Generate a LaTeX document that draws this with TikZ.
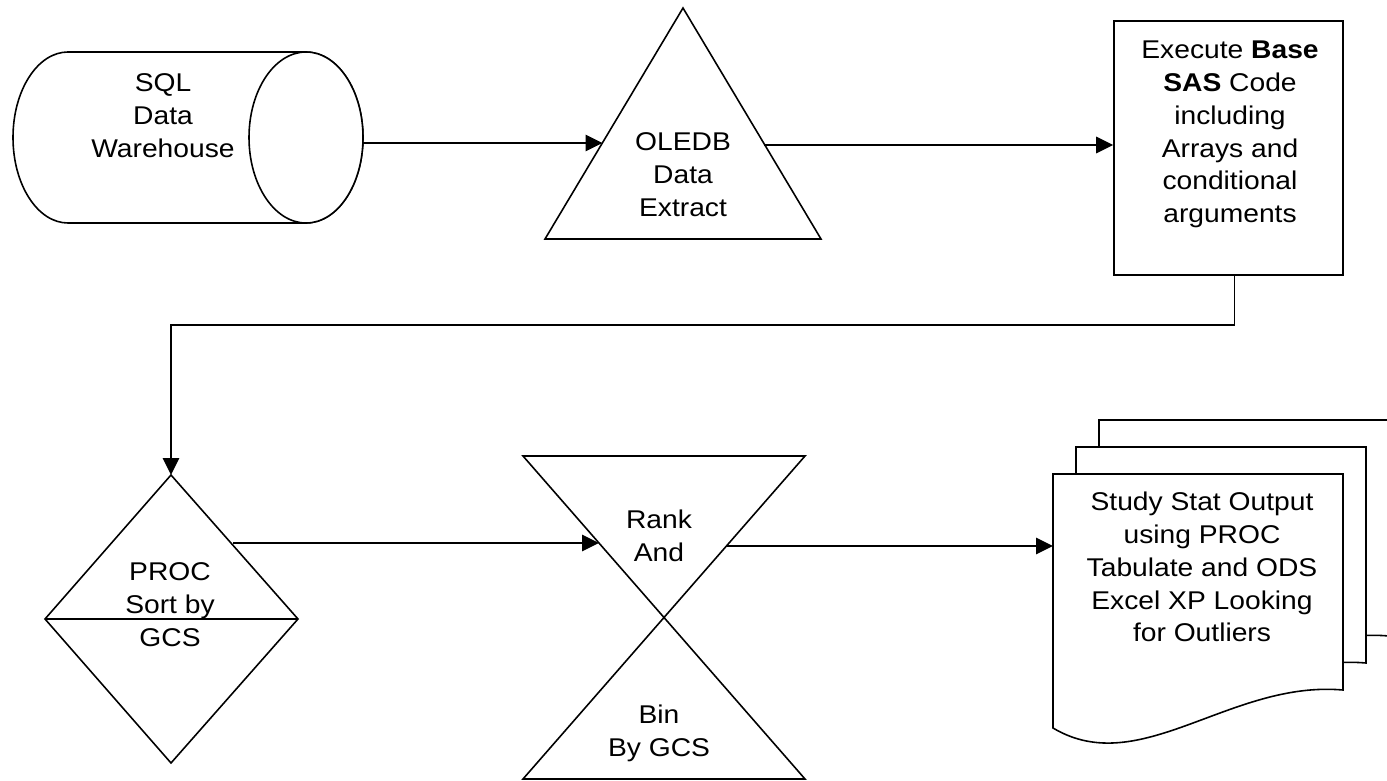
\documentclass[tikz,border=0pt]{standalone}
\usepackage{fontspec}
\setmainfont{Liberation Sans}[FakeStretch=1.1]
\usetikzlibrary{arrows.meta}

\begin{document}
\begin{tikzpicture}[
  font=\fontsize{14.6pt}{18.7pt}\selectfont,
  outline/.style={draw=black, line width=0.9pt, fill=white},
  wire/.style={draw=black, line width=0.9pt},
  txt/.style={align=center, inner sep=0pt},
  arr/.style={-{Triangle[length=3.4mm, width=3.3mm]}, line width=0.9pt}
]
  \clip (0,0) rectangle (27.74,-15.62);

  % data warehouse (cylinder lying on its side)
  \draw[outline] (1.36,-1.04) -- (6.12,-1.04)
    arc[start angle=90, end angle=-90, x radius=1.14, y radius=1.71]
    -- (1.36,-4.46)
    arc[start angle=270, end angle=90, x radius=1.10, y radius=1.71] -- cycle;
  \draw[outline] (6.12,-2.75) ellipse [x radius=1.14, y radius=1.71];
  \node[txt] (dw) at (3.26,-2.32) {SQL\\Data\\Warehouse};
  \coordinate (dw-out) at (7.26,-2.86);

  % extract (triangle)
  \draw[outline] (13.66,-0.16) -- (16.42,-4.78) -- (10.90,-4.78) -- cycle;
  \node[txt] (ext) at (13.66,-3.50) {OLEDB\\Data\\Extract};
  \coordinate (ext-in) at (12.05,-2.86);
  \coordinate (ext-out) at (15.28,-2.90);

  % base SAS step
  \node[outline, minimum width=4.58cm, minimum height=5.08cm] (exec) at (24.57,-2.96) {};
  \node[txt] (exec-txt) at (24.60,-2.69)
    {Execute \textbf{Base}\\\textbf{SAS} Code\\including\\Arrays and\\conditional\\arguments};

  % sort (diamond with a bar)
  \draw[outline] (3.42,-9.50) -- (5.96,-12.38) -- (3.42,-15.26) -- (0.90,-12.38) -- cycle;
  \draw[wire] (0.90,-12.38) -- (5.96,-12.38);
  \coordinate (sort-top) at (3.42,-9.50);
  \coordinate (sort-out) at (4.66,-10.86);
  \node[txt] (sort) at (3.40,-12.10) {PROC\\Sort by\\GCS};

  % rank / bin (hourglass)
  \draw[outline] (10.46,-9.12) -- (16.10,-9.12) -- (10.46,-15.58) -- (16.10,-15.58) -- cycle;
  \node[txt] (rank) at (13.18,-10.71) {Rank\\And};
  \node[txt] (bin) at (13.18,-14.66) {Bin\\By GCS};
  \coordinate (rank-in) at (11.98,-10.86);
  \coordinate (rank-out) at (14.53,-10.92);

  % stacked output pages, back to front
  \draw[outline, shift={(0.92,1.08)}] (21.06,-9.48) -- (26.86,-9.48) -- (26.86,-13.80)
    .. controls (24.60,-13.60) and (22.80,-15.60) .. (21.06,-14.56) -- cycle;
  \draw[outline, shift={(0.46,0.54)}] (21.06,-9.48) -- (26.86,-9.48) -- (26.86,-13.80)
    .. controls (24.60,-13.60) and (22.80,-15.60) .. (21.06,-14.56) -- cycle;
  \draw[outline] (21.06,-9.48) -- (26.86,-9.48) -- (26.86,-13.80)
    .. controls (24.60,-13.60) and (22.80,-15.60) .. (21.06,-14.56) -- cycle;
  \node[txt] (study) at (24.04,-11.34)
    {Study Stat Output\\using PROC\\Tabulate and ODS\\Excel XP Looking\\for Outliers};
  \coordinate (study-in) at (21.06,-10.92);

  \draw[arr] (dw-out) -- (ext-in);
  \draw[arr] (ext-out) -- (exec.west |- ext-out);
  \draw[arr] ([xshift=1.2mm]exec.south) -- ++(0,-0.98) -| (sort-top);
  \draw[arr] (sort-out) -- (rank-in);
  \draw[arr] (rank-out) -- (study-in);
\end{tikzpicture}
\end{document}
